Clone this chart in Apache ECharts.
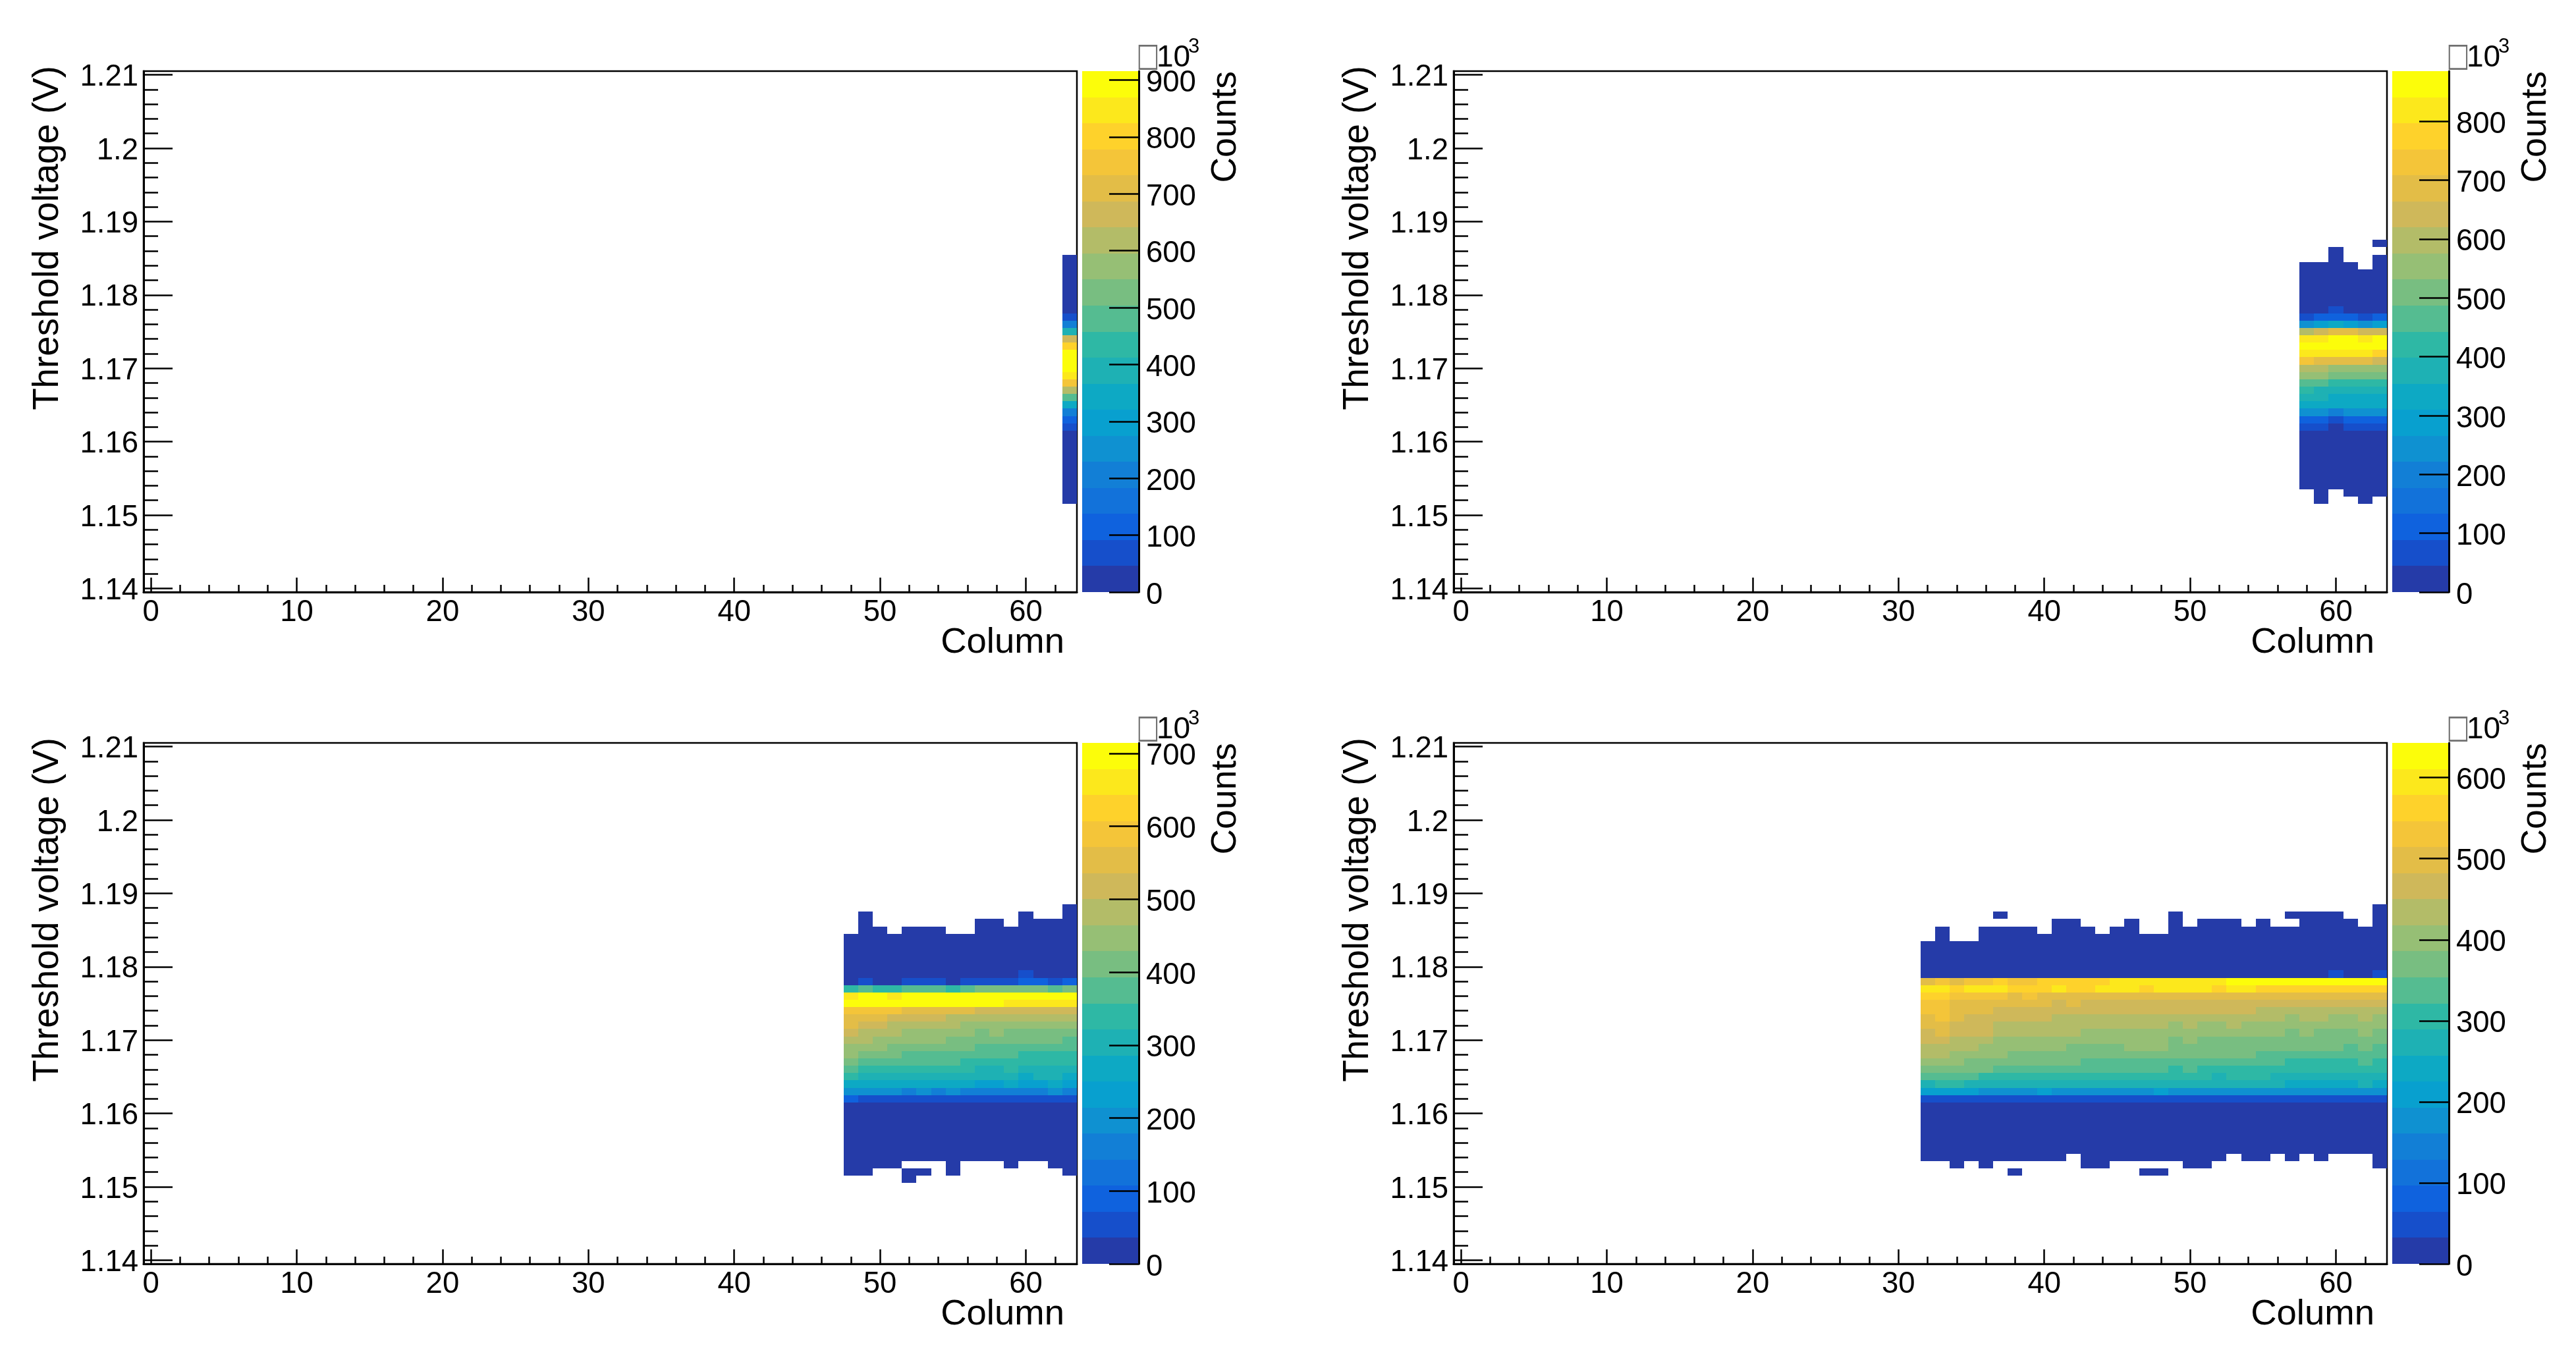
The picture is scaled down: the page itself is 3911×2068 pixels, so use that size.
<!DOCTYPE html>
<html>
<head>
<meta charset="utf-8">
<style>html,body{margin:0;padding:0;background:#fff}#chart{width:3911px;height:2068px}</style>
<script src="https://cdn.jsdelivr.net/npm/echarts@6/dist/echarts.min.js"></script>
</head>
<body>
<div id="chart"></div>
<script>
// Axis ticks
const xMajorTicks = [0, 10, 20, 30, 40, 50, 60];
const xMinorTicks = [2, 4, 6, 8, 12, 14, 16, 18, 22, 24, 26, 28, 32, 34, 36, 38, 42, 44, 46, 48, 52, 54, 56, 58, 62];
const yMajorTicks = [1.14, 1.15, 1.16, 1.17, 1.18, 1.19, 1.2, 1.21];
const yMinorTicks = [1.142, 1.144, 1.146, 1.148, 1.152, 1.154, 1.156, 1.158, 1.162, 1.164, 1.166, 1.168, 1.172, 1.174, 1.176, 1.178, 1.182, 1.184, 1.186, 1.188, 1.192, 1.194, 1.196, 1.198, 1.202, 1.204, 1.206, 1.208];

// Colour scale: 20 contours, bottom to top
const colourBands = ['#253ba8', '#164fcb', '#0f62de', '#1272da', '#127fd6', '#0f91d1', '#08a0cf', '#0da9c4', '#1eb1b4', '#2eb8a5', '#55bc91', '#78be81', '#96bf75', '#b3bc68', '#cfb85a', '#e3bd47', '#f4c539', '#fed22b', '#fce81c', '#fcfd0a'];
const panelColourMax = [915.5, 885.3, 714.3, 642.8];
const panelColourTicks = [
  [0, 100, 200, 300, 400, 500, 600, 700, 800, 900],
  [0, 100, 200, 300, 400, 500, 600, 700, 800],
  [0, 100, 200, 300, 400, 500, 600, 700],
  [0, 100, 200, 300, 400, 500, 600]
];

// Threshold voltage of each row in the count tables
const voltageRows = [1.188, 1.187, 1.186, 1.185, 1.184, 1.183, 1.182, 1.181, 1.18, 1.179, 1.178, 1.177, 1.176, 1.175, 1.174, 1.173, 1.172, 1.171, 1.17, 1.169, 1.168, 1.167, 1.166, 1.165, 1.164, 1.163, 1.162, 1.161, 1.16, 1.159, 1.158, 1.157, 1.156, 1.155, 1.154, 1.153, 1.152, 1.151];

// Counts in thousands, one row per voltage, one entry per column (0 = empty bin)
const panel1Columns = [63];
const panel1Counts = [[0], [0], [0], [23], [23], [23], [23], [23], [23], [23], [23], [69], [206], [389], [664], [802], [894], [894], [894], [848], [756], [619], [481], [344], [206], [115], [69], [23], [23], [23], [23], [23], [23], [23], [23], [23], [23], [0]];

const panel2Columns = [58, 59, 60, 61, 62, 63];
const panel2Counts = [
  [0, 0, 0, 0, 0, 0],
  [0, 0, 0, 0, 0, 22],
  [0, 0, 22, 0, 0, 0],
  [0, 0, 22, 0, 0, 22],
  [22, 22, 22, 22, 0, 22],
  [22, 22, 22, 22, 22, 22],
  [22, 22, 22, 22, 22, 22],
  [22, 22, 22, 22, 22, 22],
  [22, 22, 22, 22, 22, 22],
  [22, 22, 22, 22, 22, 22],
  [22, 22, 66, 22, 22, 22],
  [66, 111, 111, 111, 66, 111],
  [243, 288, 332, 288, 243, 288],
  [598, 642, 686, 686, 642, 642],
  [819, 819, 863, 863, 819, 863],
  [863, 863, 863, 863, 863, 863],
  [819, 819, 819, 819, 819, 775],
  [730, 686, 686, 686, 686, 642],
  [598, 598, 553, 553, 553, 553],
  [553, 553, 509, 509, 509, 509],
  [465, 465, 421, 421, 421, 421],
  [421, 376, 376, 376, 376, 376],
  [376, 376, 332, 332, 332, 332],
  [332, 332, 332, 332, 332, 332],
  [243, 243, 199, 243, 243, 243],
  [111, 111, 66, 111, 111, 111],
  [66, 66, 22, 66, 66, 66],
  [22, 22, 22, 22, 22, 22],
  [22, 22, 22, 22, 22, 22],
  [22, 22, 22, 22, 22, 22],
  [22, 22, 22, 22, 22, 22],
  [22, 22, 22, 22, 22, 22],
  [22, 22, 22, 22, 22, 22],
  [22, 22, 22, 22, 22, 22],
  [22, 22, 22, 22, 22, 22],
  [0, 22, 0, 22, 22, 22],
  [0, 22, 0, 0, 22, 0],
  [0, 0, 0, 0, 0, 0]
];

const panel3Columns = [48, 49, 50, 51, 52, 53, 54, 55, 56, 57, 58, 59, 60, 61, 62, 63];
const panel3Counts = [
  [0, 0, 0, 0, 0, 0, 0, 0, 0, 0, 0, 0, 0, 0, 0, 18],
  [0, 18, 0, 0, 0, 0, 0, 0, 0, 0, 0, 0, 18, 0, 0, 18],
  [0, 18, 0, 0, 0, 0, 0, 0, 0, 18, 18, 0, 18, 18, 18, 18],
  [0, 18, 18, 0, 18, 18, 18, 0, 0, 18, 18, 18, 18, 18, 18, 18],
  [18, 18, 18, 18, 18, 18, 18, 18, 18, 18, 18, 18, 18, 18, 18, 18],
  [18, 18, 18, 18, 18, 18, 18, 18, 18, 18, 18, 18, 18, 18, 18, 18],
  [18, 18, 18, 18, 18, 18, 18, 18, 18, 18, 18, 18, 18, 18, 18, 18],
  [18, 18, 18, 18, 18, 18, 18, 18, 18, 18, 18, 18, 18, 18, 18, 18],
  [18, 18, 18, 18, 18, 18, 18, 18, 18, 18, 18, 18, 18, 18, 18, 18],
  [18, 18, 18, 18, 18, 18, 18, 18, 18, 18, 18, 18, 54, 18, 18, 18],
  [18, 54, 18, 18, 54, 54, 54, 18, 54, 54, 54, 54, 89, 89, 54, 89],
  [339, 375, 339, 339, 375, 375, 375, 339, 375, 411, 411, 411, 411, 411, 375, 411],
  [660, 696, 696, 660, 696, 696, 696, 696, 696, 696, 696, 696, 696, 696, 696, 696],
  [696, 696, 696, 696, 696, 696, 696, 696, 696, 696, 696, 660, 660, 660, 660, 660],
  [589, 589, 589, 589, 553, 553, 553, 553, 553, 518, 518, 518, 518, 518, 518, 518],
  [553, 553, 553, 518, 518, 518, 518, 482, 482, 482, 482, 482, 482, 482, 482, 482],
  [553, 518, 518, 482, 482, 482, 482, 482, 446, 446, 446, 446, 446, 446, 446, 446],
  [518, 482, 482, 482, 446, 446, 446, 446, 446, 411, 446, 411, 411, 411, 411, 411],
  [482, 482, 446, 446, 446, 446, 446, 411, 411, 411, 411, 411, 411, 411, 411, 375],
  [446, 446, 446, 411, 411, 411, 411, 411, 411, 375, 375, 375, 375, 375, 375, 375],
  [446, 411, 411, 411, 375, 375, 375, 375, 375, 375, 375, 375, 339, 339, 339, 339],
  [411, 375, 375, 375, 375, 375, 375, 375, 339, 339, 339, 339, 339, 339, 339, 339],
  [375, 339, 339, 339, 339, 339, 339, 339, 339, 303, 303, 339, 303, 303, 303, 303],
  [339, 303, 303, 303, 303, 303, 303, 303, 303, 303, 303, 303, 268, 303, 303, 268],
  [268, 268, 268, 268, 268, 268, 268, 268, 268, 232, 232, 268, 232, 232, 268, 232],
  [196, 196, 196, 196, 161, 196, 161, 196, 161, 161, 161, 161, 161, 161, 196, 161],
  [89, 54, 54, 54, 54, 54, 54, 54, 54, 54, 54, 54, 54, 54, 54, 54],
  [18, 18, 18, 18, 18, 18, 18, 18, 18, 18, 18, 18, 18, 18, 18, 18],
  [18, 18, 18, 18, 18, 18, 18, 18, 18, 18, 18, 18, 18, 18, 18, 18],
  [18, 18, 18, 18, 18, 18, 18, 18, 18, 18, 18, 18, 18, 18, 18, 18],
  [18, 18, 18, 18, 18, 18, 18, 18, 18, 18, 18, 18, 18, 18, 18, 18],
  [18, 18, 18, 18, 18, 18, 18, 18, 18, 18, 18, 18, 18, 18, 18, 18],
  [18, 18, 18, 18, 18, 18, 18, 18, 18, 18, 18, 18, 18, 18, 18, 18],
  [18, 18, 18, 18, 18, 18, 18, 18, 18, 18, 18, 18, 18, 18, 18, 18],
  [18, 18, 18, 18, 18, 18, 18, 18, 18, 18, 18, 18, 18, 18, 18, 18],
  [18, 18, 18, 18, 0, 0, 0, 18, 0, 0, 0, 18, 0, 0, 18, 18],
  [18, 18, 0, 0, 18, 18, 0, 18, 0, 0, 0, 0, 0, 0, 0, 18],
  [0, 0, 0, 0, 18, 0, 0, 0, 0, 0, 0, 0, 0, 0, 0, 0]
];

const panel4Columns = [32, 33, 34, 35, 36, 37, 38, 39, 40, 41, 42, 43, 44, 45, 46, 47, 48, 49, 50, 51, 52, 53, 54, 55, 56, 57, 58, 59, 60, 61, 62, 63];
const panel4Counts = [
  [0, 0, 0, 0, 0, 0, 0, 0, 0, 0, 0, 0, 0, 0, 0, 0, 0, 0, 0, 0, 0, 0, 0, 0, 0, 0, 0, 0, 0, 0, 0, 16],
  [0, 0, 0, 0, 0, 16, 0, 0, 0, 0, 0, 0, 0, 0, 0, 0, 0, 16, 0, 0, 0, 0, 0, 0, 0, 16, 16, 16, 16, 0, 0, 16],
  [0, 0, 0, 0, 0, 0, 0, 0, 0, 16, 16, 0, 0, 0, 16, 0, 0, 16, 0, 16, 16, 16, 0, 16, 0, 0, 16, 16, 16, 16, 0, 16],
  [0, 16, 0, 0, 16, 16, 16, 16, 0, 16, 16, 16, 0, 16, 16, 0, 0, 16, 16, 16, 16, 16, 16, 16, 16, 16, 16, 16, 16, 16, 16, 16],
  [0, 16, 0, 0, 16, 16, 16, 16, 16, 16, 16, 16, 16, 16, 16, 16, 16, 16, 16, 16, 16, 16, 16, 16, 16, 16, 16, 16, 16, 16, 16, 16],
  [16, 16, 16, 16, 16, 16, 16, 16, 16, 16, 16, 16, 16, 16, 16, 16, 16, 16, 16, 16, 16, 16, 16, 16, 16, 16, 16, 16, 16, 16, 16, 16],
  [16, 16, 16, 16, 16, 16, 16, 16, 16, 16, 16, 16, 16, 16, 16, 16, 16, 16, 16, 16, 16, 16, 16, 16, 16, 16, 16, 16, 16, 16, 16, 16],
  [16, 16, 16, 16, 16, 16, 16, 16, 16, 16, 16, 16, 16, 16, 16, 16, 16, 16, 16, 16, 16, 16, 16, 16, 16, 16, 16, 16, 16, 16, 16, 16],
  [16, 16, 16, 16, 16, 16, 16, 16, 16, 16, 16, 16, 16, 16, 16, 16, 16, 16, 16, 16, 16, 16, 16, 16, 16, 16, 16, 16, 16, 16, 16, 16],
  [16, 16, 16, 16, 16, 16, 16, 16, 16, 16, 16, 16, 16, 16, 16, 16, 16, 16, 16, 16, 16, 16, 16, 16, 16, 16, 16, 16, 48, 16, 16, 48],
  [498, 530, 498, 530, 530, 562, 530, 530, 562, 562, 562, 562, 562, 594, 594, 594, 594, 594, 594, 594, 594, 627, 627, 627, 627, 627, 627, 627, 627, 627, 627, 627],
  [594, 594, 562, 594, 594, 594, 562, 562, 562, 594, 562, 562, 594, 594, 594, 562, 594, 594, 594, 594, 562, 594, 594, 562, 562, 562, 562, 562, 562, 562, 562, 562],
  [562, 562, 530, 530, 530, 530, 498, 530, 498, 498, 498, 498, 498, 498, 498, 498, 498, 498, 498, 498, 498, 498, 498, 498, 498, 498, 498, 498, 498, 498, 498, 498],
  [530, 530, 498, 498, 498, 498, 498, 498, 498, 466, 498, 466, 466, 466, 466, 466, 466, 466, 466, 466, 466, 466, 466, 466, 466, 466, 466, 466, 466, 466, 466, 466],
  [530, 530, 498, 498, 498, 466, 466, 466, 466, 466, 466, 466, 466, 466, 466, 466, 466, 466, 466, 466, 466, 466, 466, 434, 434, 434, 434, 434, 434, 434, 434, 434],
  [498, 530, 498, 466, 466, 466, 466, 466, 466, 434, 434, 434, 434, 434, 434, 434, 434, 434, 434, 434, 434, 434, 434, 434, 434, 402, 434, 434, 402, 402, 434, 402],
  [498, 498, 466, 466, 466, 434, 434, 434, 434, 434, 434, 434, 434, 434, 434, 434, 434, 402, 434, 402, 402, 434, 402, 402, 402, 402, 402, 402, 402, 402, 402, 402],
  [466, 498, 466, 466, 466, 434, 434, 434, 434, 434, 434, 402, 402, 402, 402, 402, 402, 402, 402, 402, 402, 402, 402, 402, 402, 370, 402, 370, 370, 370, 402, 370],
  [466, 466, 434, 434, 434, 402, 402, 402, 402, 402, 402, 402, 402, 402, 402, 402, 402, 370, 402, 370, 370, 370, 370, 370, 370, 370, 370, 370, 370, 370, 370, 370],
  [434, 434, 434, 434, 402, 402, 402, 402, 402, 402, 370, 370, 370, 370, 402, 402, 402, 370, 370, 370, 370, 370, 370, 370, 370, 370, 370, 370, 370, 337, 370, 337],
  [434, 434, 402, 402, 402, 402, 370, 370, 370, 370, 370, 370, 370, 370, 370, 370, 370, 370, 370, 370, 370, 370, 370, 337, 337, 337, 337, 337, 337, 337, 337, 337],
  [402, 402, 402, 370, 370, 370, 370, 370, 370, 370, 370, 337, 337, 337, 337, 337, 337, 337, 337, 337, 337, 337, 337, 337, 337, 305, 305, 305, 305, 305, 337, 305],
  [370, 370, 370, 370, 370, 337, 337, 337, 337, 337, 337, 337, 337, 337, 337, 337, 337, 305, 337, 305, 305, 305, 305, 305, 305, 305, 305, 305, 305, 305, 305, 305],
  [337, 337, 337, 337, 305, 305, 305, 305, 305, 305, 305, 305, 305, 305, 305, 305, 305, 305, 305, 305, 273, 305, 305, 305, 273, 273, 273, 273, 273, 273, 273, 273],
  [273, 305, 305, 273, 273, 273, 273, 273, 273, 273, 273, 273, 273, 273, 273, 273, 273, 273, 273, 273, 273, 273, 273, 273, 273, 241, 241, 241, 241, 241, 273, 241],
  [209, 209, 209, 209, 177, 177, 177, 177, 209, 177, 177, 177, 177, 177, 177, 177, 209, 177, 177, 177, 177, 177, 177, 177, 177, 177, 177, 177, 177, 177, 177, 177],
  [48, 48, 48, 48, 48, 48, 48, 48, 48, 48, 48, 48, 48, 48, 48, 48, 48, 48, 48, 48, 48, 48, 48, 48, 48, 48, 48, 48, 48, 48, 48, 48],
  [16, 16, 16, 16, 16, 16, 16, 16, 16, 16, 16, 16, 16, 16, 16, 16, 16, 16, 16, 16, 16, 16, 16, 16, 16, 16, 16, 16, 16, 16, 16, 16],
  [16, 16, 16, 16, 16, 16, 16, 16, 16, 16, 16, 16, 16, 16, 16, 16, 16, 16, 16, 16, 16, 16, 16, 16, 16, 16, 16, 16, 16, 16, 16, 16],
  [16, 16, 16, 16, 16, 16, 16, 16, 16, 16, 16, 16, 16, 16, 16, 16, 16, 16, 16, 16, 16, 16, 16, 16, 16, 16, 16, 16, 16, 16, 16, 16],
  [16, 16, 16, 16, 16, 16, 16, 16, 16, 16, 16, 16, 16, 16, 16, 16, 16, 16, 16, 16, 16, 16, 16, 16, 16, 16, 16, 16, 16, 16, 16, 16],
  [16, 16, 16, 16, 16, 16, 16, 16, 16, 16, 16, 16, 16, 16, 16, 16, 16, 16, 16, 16, 16, 16, 16, 16, 16, 16, 16, 16, 16, 16, 16, 16],
  [16, 16, 16, 16, 16, 16, 16, 16, 16, 16, 16, 16, 16, 16, 16, 16, 16, 16, 16, 16, 16, 16, 16, 16, 16, 16, 16, 16, 16, 16, 16, 16],
  [16, 16, 16, 16, 16, 16, 16, 16, 16, 16, 16, 16, 16, 16, 16, 16, 16, 16, 16, 16, 16, 16, 16, 16, 16, 16, 16, 16, 16, 16, 16, 16],
  [16, 16, 16, 16, 16, 16, 16, 16, 16, 16, 0, 16, 16, 16, 16, 16, 16, 16, 16, 16, 16, 0, 16, 16, 0, 16, 0, 16, 0, 0, 0, 16],
  [0, 0, 16, 0, 16, 0, 0, 0, 0, 0, 0, 16, 16, 0, 0, 0, 0, 0, 16, 16, 0, 0, 0, 0, 0, 0, 0, 0, 0, 0, 0, 16],
  [0, 0, 0, 0, 0, 0, 16, 0, 0, 0, 0, 0, 0, 0, 0, 16, 16, 0, 0, 0, 0, 0, 0, 0, 0, 0, 0, 0, 0, 0, 0, 0],
  [0, 0, 0, 0, 0, 0, 0, 0, 0, 0, 0, 0, 0, 0, 0, 0, 0, 0, 0, 0, 0, 0, 0, 0, 0, 0, 0, 0, 0, 0, 0, 0]
];

const panelColumns = [panel1Columns, panel2Columns, panel3Columns, panel4Columns];
const panelCounts = [panel1Counts, panel2Counts, panel3Counts, panel4Counts];

const FONT = '"Liberation Sans", Arial, sans-serif';
const grid = [], xAxis = [], yAxis = [], series = [], graphic = [];
const tickLine = { color: '#000', width: 2.5 };

function bandColour(value, max) {
  const i = Math.min(colourBands.length - 1, Math.floor(value / max * colourBands.length));
  return colourBands[i];
}

panelCounts.forEach(function (rows, p) {
  const dx = p % 2 ? 1989 : 0;
  const dy = p >= 2 ? 1020 : 0;
  const max = panelColourMax[p];
  const base = p * 3;
  const plotGrid = grid.length;
  grid.push({ left: 218 + dx, top: 108 + dy, width: 1417, height: 791, show: true, borderColor: '#000', borderWidth: 2.5, backgroundColor: '#fff' });
  grid.push({ left: 1643 + dx, top: 108 + dy, width: 86, height: 791 });

  const hidden = { show: false };
  xAxis.push({
    type: 'value', gridIndex: plotGrid, position: 'bottom', min: -0.5, max: 63.5,
    name: 'Column', nameLocation: 'end', nameGap: -19, nameMoveOverlap: false,
    nameTextStyle: { fontFamily: FONT, fontSize: 54.5, color: '#000', align: 'right', verticalAlign: 'top', padding: [49, 0, 0, 0] },
    axisLine: { show: true, onZero: false, lineStyle: { color: '#000', width: 3 } },
    axisTick: { show: true, inside: true, length: 22, customValues: xMajorTicks, lineStyle: tickLine },
    axisLabel: { show: true, customValues: xMajorTicks, margin: 8, fontFamily: FONT, fontSize: 45.5, color: '#000', hideOverlap: false, showMinLabel: true, showMaxLabel: true },
    splitLine: hidden
  });
  xAxis.push({
    type: 'value', gridIndex: plotGrid, position: 'bottom', min: -0.5, max: 63.5,
    axisLine: { show: false, onZero: false },
    axisTick: { show: true, inside: true, length: 11, customValues: xMinorTicks, lineStyle: tickLine },
    axisLabel: hidden, splitLine: hidden
  });
  xAxis.push({ type: 'value', gridIndex: plotGrid + 1, min: 0, max: 1, show: false, splitLine: hidden });

  yAxis.push({
    type: 'value', gridIndex: plotGrid, position: 'left', min: 1.1395, max: 1.2105,
    name: 'Threshold voltage (V)', nameLocation: 'end', nameRotate: 90, nameGap: 8, nameMoveOverlap: false,
    nameTextStyle: { fontFamily: FONT, fontSize: 54.7, color: '#000', align: 'right', verticalAlign: 'bottom', padding: [0, 0, 118, 0] },
    axisLine: { show: true, onZero: false, lineStyle: { color: '#000', width: 3 } },
    axisTick: { show: true, inside: true, length: 44, customValues: yMajorTicks, lineStyle: tickLine },
    axisLabel: { show: true, customValues: yMajorTicks, margin: 8, lineHeight: 46, verticalAlign: 'top', padding: [-19, 0, 0, 0], fontFamily: FONT, fontSize: 45.5, color: '#000', hideOverlap: false, formatter: function (v) { return String(v); } },
    splitLine: hidden
  });
  yAxis.push({
    type: 'value', gridIndex: plotGrid, position: 'left', min: 1.1395, max: 1.2105,
    axisLine: { show: false, onZero: false },
    axisTick: { show: true, inside: true, length: 22, customValues: yMinorTicks, lineStyle: tickLine },
    axisLabel: hidden, splitLine: hidden
  });
  yAxis.push({
    type: 'value', gridIndex: plotGrid + 1, position: 'right', min: 0, max: max, z: 10,
    name: 'Counts', nameLocation: 'end', nameRotate: 90, nameGap: 0, nameMoveOverlap: false,
    nameTextStyle: { fontFamily: FONT, fontSize: 53.5, color: '#000', align: 'right', verticalAlign: 'top', padding: [105, 0, 0, 0] },
    axisLine: { show: true, onZero: false, lineStyle: { color: '#000', width: 3 } },
    axisTick: { show: true, inside: true, length: 45, customValues: panelColourTicks[p], lineStyle: tickLine },
    axisLabel: { show: true, customValues: panelColourTicks[p], margin: 11, lineHeight: 46, verticalAlign: 'top', padding: [-18, 0, 0, 0], fontFamily: FONT, fontSize: 45.5, color: '#000', hideOverlap: false, formatter: function (v) { return String(v); } },
    splitLine: hidden
  });

  // Histogram bins
  const cells = [];
  rows.forEach(function (row, r) {
    row.forEach(function (v, c) {
      if (v > 0) cells.push([panelColumns[p][c], voltageRows[r], v]);
    });
  });
  series.push({
    type: 'custom', coordinateSystem: 'cartesian2d', xAxisIndex: base, yAxisIndex: base, clip: false, silent: true,
    encode: { x: 0, y: 1 }, data: cells,
    renderItem: function (params, api) {
      const x = api.value(0), y = api.value(1);
      const a = api.coord([x - 0.5, y + 0.0005]);
      const b = api.coord([x + 0.5, y - 0.0005]);
      const x0 = Math.round(a[0]), y0 = Math.round(a[1]);
      return {
        type: 'rect',
        shape: { x: x0, y: y0, width: Math.round(b[0]) - x0, height: Math.round(b[1]) - y0 },
        style: { fill: bandColour(api.value(2), max), stroke: null }
      };
    }
  });

  // Colour bar
  const stripes = colourBands.map(function (c, i) {
    return [0, i / colourBands.length * max, (i + 1) / colourBands.length * max, i];
  });
  series.push({
    type: 'custom', coordinateSystem: 'cartesian2d', xAxisIndex: base + 2, yAxisIndex: base + 2, clip: false, silent: true,
    encode: { y: [1, 2] }, data: stripes,
    renderItem: function (params, api) {
      const a = api.coord([0, api.value(2)]);
      const b = api.coord([1, api.value(1)]);
      const y0 = Math.round(a[1]);
      return {
        type: 'rect',
        shape: { x: a[0], y: y0, width: b[0] - a[0], height: Math.round(b[1]) - y0 },
        style: { fill: colourBands[api.value(3)], stroke: null }
      };
    }
  });

  // Exponent above the colour bar
  graphic.push({ type: 'text', x: 1743 + dx, y: 87 + dy, scaleX: 0.74, silent: true, style: { text: '\u25A1', fill: '#707070', font: '50px "DejaVu Sans"', align: 'center', verticalAlign: 'middle' } });
  graphic.push({ type: 'text', x: 1756 + dx, y: 88 + dy, silent: true, style: { text: '10', fill: '#000', font: '46px ' + FONT, align: 'left', verticalAlign: 'middle' } });
  graphic.push({ type: 'text', x: 1804 + dx, y: 71 + dy, silent: true, style: { text: '3', fill: '#000', font: '31px ' + FONT, align: 'left', verticalAlign: 'middle' } });
});

const chart = echarts.init(document.getElementById('chart'), null, { renderer: 'canvas', width: 3911, height: 2068 });
chart.setOption({
  animation: false,
  backgroundColor: '#fff',
  textStyle: { fontFamily: FONT },
  grid: grid, xAxis: xAxis, yAxis: yAxis, series: series, graphic: graphic
});
</script>
</body>
</html>
